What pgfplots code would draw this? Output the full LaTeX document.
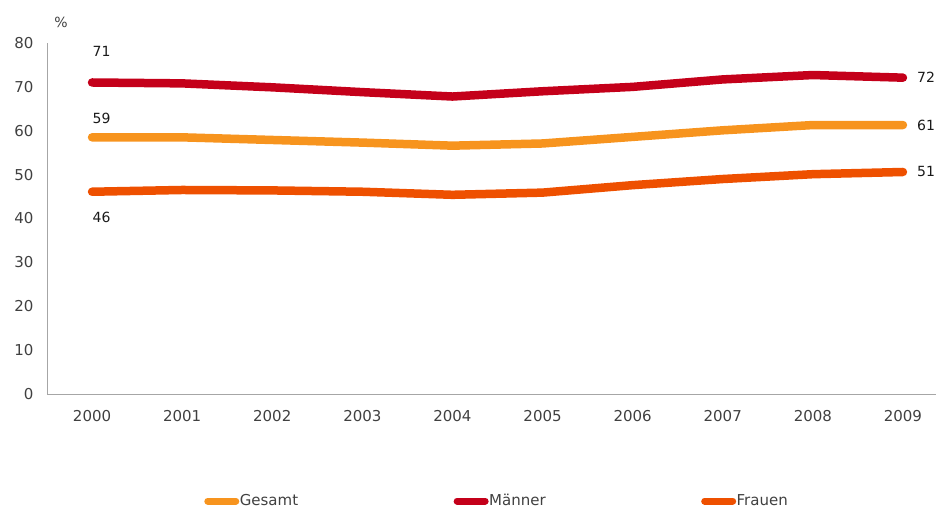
\documentclass[border=0pt]{standalone}
\usepackage{pgfplots}
\pgfplotsset{compat=1.18}
\usepackage{fontspec}
\setmainfont{DejaVu Sans}
\definecolor{maenner}{HTML}{C4001A}
\definecolor{gesamt}{HTML}{F7941E}
\definecolor{frauen}{HTML}{EE5000}
\definecolor{axisgray}{HTML}{A6A6A6}
\definecolor{ticktext}{HTML}{404040}
\definecolor{labeltext}{HTML}{1A1A1A}
\begin{document}
\begin{tikzpicture}
\begin{axis}[
    name=ax, anchor=south west,
    scale only axis, width=889pt, height=351pt,
    xmin=-0.5, xmax=9.367, ymin=0, ymax=80,
    axis x line*=bottom, axis y line*=left,
    axis line style={axisgray, line width=0.8pt},
    every outer x axis line/.append style={-}, every outer y axis line/.append style={-},
    xtick={0,...,9},
    xticklabels={2000,2001,2002,2003,2004,2005,2006,2007,2008,2009},
    ytick={0,10,...,80},
    major tick length=0pt,
    tick label style={font=\fontsize{15}{17}\selectfont, text=ticktext},
    /pgf/number format/assume math mode=true,
    yticklabel style={xshift=-10pt},
    xticklabel style={yshift=-13pt},
    clip=false,
    legend style={at={(0.1767,-0.305)}, anchor=west, draw=none, fill=none,
        legend columns=3, font=\fontsize{15}{17}\selectfont, text=ticktext,
        nodes={inner sep=0.5pt},
        /tikz/every even column/.append style={column sep=155pt},
        inner sep=0pt},
    legend image code/.code={\draw[#1, line width=7pt, line cap=round] (0,0) -- (28pt,0);},
    every axis plot/.append style={line width=8.5pt, line cap=round, line join=round},
]
\addplot[gesamt] coordinates {(0,58.5) (1,58.5) (2,57.9) (3,57.3) (4,56.6) (5,57.1) (6,58.6) (7,60.1) (8,61.3) (9,61.3)};
\addlegendentry{Gesamt}
\addplot[maenner] coordinates {(0,71.0) (1,70.8) (2,69.9) (3,68.8) (4,67.8) (5,69.0) (6,70.0) (7,71.7) (8,72.7) (9,72.1)};
\addlegendentry{Männer}
\addplot[frauen] coordinates {(0,46.1) (1,46.5) (2,46.4) (3,46.1) (4,45.4) (5,45.9) (6,47.6) (7,49.0) (8,50.1) (9,50.6)};
\addlegendentry{Frauen}
\node[font=\fontsize{14}{16}\selectfont, text=labeltext] at (axis cs:0.105,78.2) {71};
\node[font=\fontsize{14}{16}\selectfont, text=labeltext] at (axis cs:0.105,62.8) {59};
\node[font=\fontsize{14}{16}\selectfont, text=labeltext] at (axis cs:0.105,40.2) {46};
\node[font=\fontsize{14}{16}\selectfont, text=labeltext, anchor=west, inner sep=0pt] at (axis cs:9.155,72.1) {72};
\node[font=\fontsize{14}{16}\selectfont, text=labeltext, anchor=west, inner sep=0pt] at (axis cs:9.155,61.3) {61};
\node[font=\fontsize{14}{16}\selectfont, text=labeltext, anchor=west, inner sep=0pt] at (axis cs:9.155,50.6) {51};
\node[font=\fontsize{14}{16}\selectfont, text=ticktext] at (rel axis cs:0,1) [xshift=14pt, yshift=21pt] {\%};
\end{axis}
\pgfresetboundingbox
\path[use as bounding box] (ax.south west) ++(-47pt,-114pt) rectangle ++(936pt,508pt);
\end{tikzpicture}
\end{document}
